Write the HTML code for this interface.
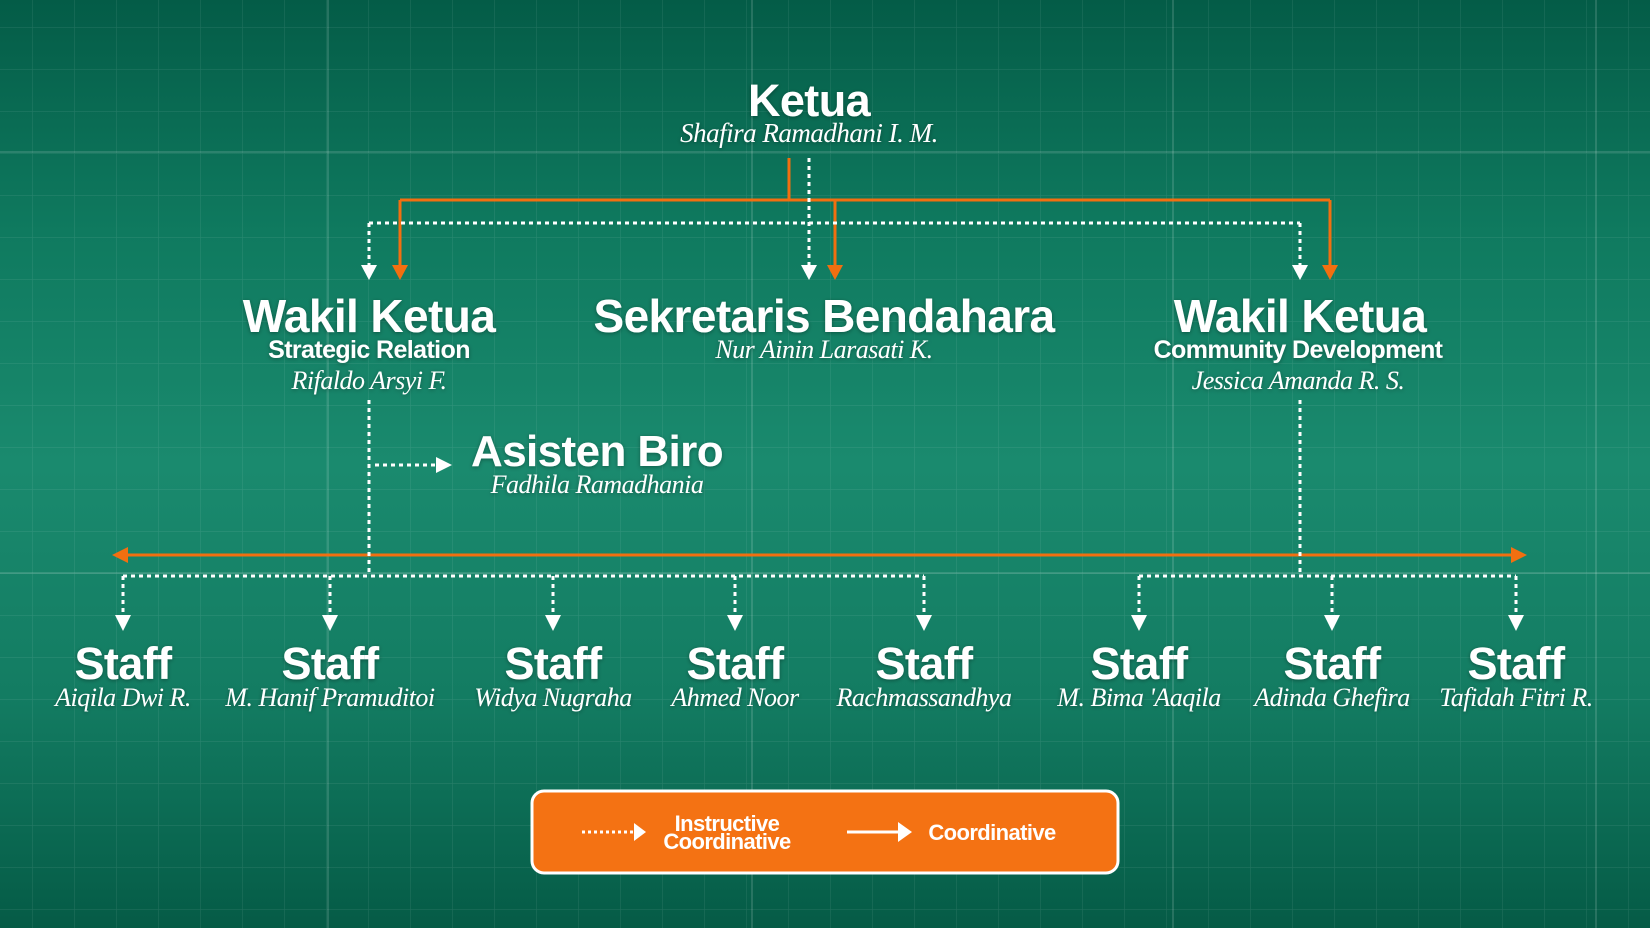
<!DOCTYPE html>
<html><head><meta charset="utf-8"><style>
html,body{margin:0;padding:0;}
body{width:1650px;height:928px;overflow:hidden;background:linear-gradient(180deg,#045c47 0%,#0f7a5f 25%,#1a8a6e 50%,#137c62 75%,#055b46 100%);}
svg{display:block}
.t{font-family:"Liberation Sans",sans-serif;font-weight:bold;fill:#fff;text-anchor:middle;letter-spacing:-0.6px}
.n{font-family:"Liberation Serif",serif;font-style:italic;fill:#fff;text-anchor:middle;letter-spacing:-0.5px}
</style></head><body>
<svg width="1650" height="928" viewBox="0 0 1650 928">
<defs>
<pattern id="g" width="42" height="42" patternUnits="userSpaceOnUse" x="-10" y="27">
<path d="M0 0H42M0 0V42" stroke="rgba(255,255,255,0.10)" stroke-width="1.2" fill="none"/>
</pattern>
<filter id="sh"><feDropShadow dx="0" dy="1" stdDeviation="2" flood-color="#000" flood-opacity="0.35"/></filter>
</defs>
<rect width="1650" height="928" fill="url(#g)"/>
<g stroke="rgba(255,255,255,0.18)" stroke-width="1.5">
<line x1="328" y1="0" x2="328" y2="928"/><line x1="752" y1="0" x2="752" y2="928"/>
<line x1="1173" y1="0" x2="1173" y2="928"/><line x1="1596" y1="0" x2="1596" y2="928"/>
<line x1="0" y1="152" x2="1650" y2="152"/><line x1="0" y1="573" x2="1650" y2="573"/>
</g>
<g stroke="#f26f10" stroke-width="3" fill="none">
<path d="M789 158V200M400 200H1330M400 200V266M835 200V266M1330 200V266"/>
<path d="M125 555H1513"/>
</g>
<g fill="#f26f10">
<path d="M392 265L408 265L400 280Z"/><path d="M827 265L843 265L835 280Z"/><path d="M1322 265L1338 265L1330 280Z"/>
<path d="M112 555L128 547L128 563Z"/><path d="M1527 555L1511 547L1511 563Z"/>
</g>
<g stroke="#fff" stroke-width="3" fill="none" stroke-dasharray="4 4">
<path d="M809 158V266M369 223H1300M369 223V266M1300 223V266"/>
<path d="M369 400V576M375 465H437"/>
<path d="M1300 400V576"/>
<path d="M123 576H924M1139 576H1516"/>
<path d="M123 576V616M330 576V616M553 576V616M735 576V616M924 576V616M1139 576V616M1332 576V616M1516 576V616"/>
</g>
<g fill="#fff">
<path d="M361 265L377 265L369 280Z"/><path d="M801 265L817 265L809 280Z"/><path d="M1292 265L1308 265L1300 280Z"/>
<path d="M436 457L452 465L436 473Z"/>
<path d="M115 615L131 615L123 631Z"/><path d="M322 615L338 615L330 631Z"/><path d="M545 615L561 615L553 631Z"/><path d="M727 615L743 615L735 631Z"/>
<path d="M916 615L932 615L924 631Z"/><path d="M1131 615L1147 615L1139 631Z"/><path d="M1324 615L1340 615L1332 631Z"/><path d="M1508 615L1524 615L1516 631Z"/>
</g>
<g filter="url(#sh)">
<text class="t" x="809" y="116" font-size="45">Ketua</text>
<text class="n" x="809" y="142" font-size="27">Shafira Ramadhani I. M.</text>
<text class="t" x="369" y="332" font-size="46">Wakil Ketua</text>
<text class="t" x="369" y="358" font-size="25">Strategic Relation</text>
<text class="n" x="369" y="389" font-size="26">Rifaldo Arsyi F.</text>
<text class="t" x="824" y="332" font-size="46">Sekretaris Bendahara</text>
<text class="n" x="824" y="358" font-size="26">Nur Ainin Larasati K.</text>
<text class="t" x="1300" y="332" font-size="46">Wakil Ketua</text>
<text class="t" x="1298" y="358" font-size="25">Community Development</text>
<text class="n" x="1298" y="389" font-size="26">Jessica Amanda R. S.</text>
<text class="t" x="597" y="466" font-size="44">Asisten Biro</text>
<text class="n" x="597" y="493" font-size="26">Fadhila Ramadhania</text>
<g font-size="45">
<text class="t" x="123" y="679">Staff</text><text class="t" x="330" y="679">Staff</text><text class="t" x="553" y="679">Staff</text><text class="t" x="735" y="679">Staff</text>
<text class="t" x="924" y="679">Staff</text><text class="t" x="1139" y="679">Staff</text><text class="t" x="1332" y="679">Staff</text><text class="t" x="1516" y="679">Staff</text>
</g>
<g font-size="26">
<text class="n" x="123" y="706">Aiqila Dwi R.</text><text class="n" x="330" y="706">M. Hanif Pramuditoi</text><text class="n" x="553" y="706">Widya Nugraha</text>
<text class="n" x="735" y="706">Ahmed Noor</text><text class="n" x="924" y="706">Rachmassandhya</text><text class="n" x="1139" y="706">M. Bima 'Aaqila</text>
<text class="n" x="1332" y="706">Adinda Ghefira</text><text class="n" x="1516" y="706">Tafidah Fitri R.</text>
</g>
</g>
<rect x="532" y="791" width="586" height="82" rx="12" fill="#f47213" stroke="#fff" stroke-width="3"/>
<path d="M582 832H634" stroke="#fff" stroke-width="3" stroke-dasharray="3 3"/>
<path d="M634 823L646 832L634 841Z" fill="#fff"/>
<text class="t" x="727" y="831" font-size="22">Instructive</text>
<text class="t" x="727" y="849" font-size="22">Coordinative</text>
<path d="M847 832H900" stroke="#fff" stroke-width="3"/>
<path d="M898 822L912 832L898 842Z" fill="#fff"/>
<text class="t" x="992" y="840" font-size="22">Coordinative</text>
</svg>
</body></html>
